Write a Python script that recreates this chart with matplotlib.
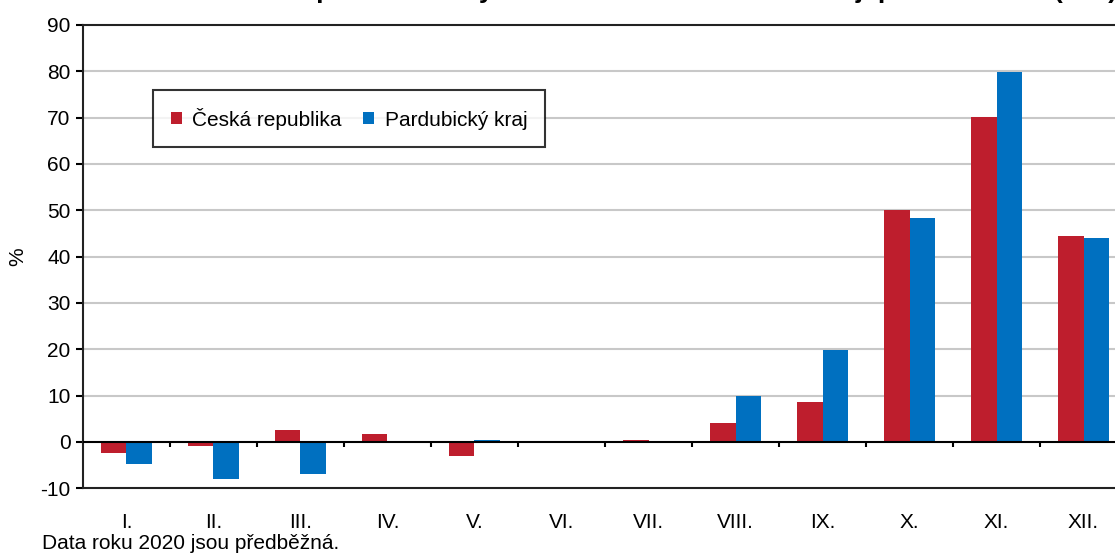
import numpy as np
import matplotlib.pyplot as plt

months = ["I.", "II.", "III.", "IV.", "V.", "VI.", "VII.", "VIII.", "IX.", "X.", "XI.", "XII."]
cr = [-2.4, -0.8, 2.6, 1.8, -3.0, 0.0, 0.5, 4.0, 8.7, 50.0, 70.1, 44.5]
pardubice = [-4.7, -8.1, -6.9, 0.0, 0.5, 0.0, 0.0, 10.0, 19.9, 48.3, 79.8, 44.1]

red = "#be1e2d"
blue = "#0070c0"

plt.rcParams['font.family'] = ['Liberation Sans', 'DejaVu Sans']
plt.rcParams['axes.unicode_minus'] = False

fig = plt.figure(figsize=(11.15, 5.54), dpi=100)
# right edge of the plot runs past the picture, as in the original
ax = fig.add_axes([0.0744, 0.1186, 1.0108 - 0.0744, 0.8363])

x = np.arange(len(months))
w = 0.29
ax.bar(x - w / 2, cr, w, color=red, label="Česká republika", zorder=3)
ax.bar(x + w / 2, pardubice, w, color=blue, label="Pardubický kraj", zorder=3)

ax.set_xlim(-0.5, len(months) - 0.5)
ax.set_ylim(-10, 90)
ax.set_yticks(np.arange(-10, 91, 10))
ax.tick_params(axis='y', labelsize=15, length=5, width=1.5, direction='out', pad=4)
ax.set_xticks(x)
ax.set_xticklabels(months)
ax.tick_params(axis='x', labelsize=15, length=0, pad=18)

for v in range(10, 90, 10):
    ax.axhline(v, color="#c8c8c8", lw=1.5, zorder=1)
ax.axhline(0, color="black", lw=1.5, zorder=4)
# tick marks on the zero line between months
ax.vlines(np.arange(0.5, len(months) - 0.5, 1), -1.1, 0, color="black", lw=1.5, zorder=4)

for s in ax.spines.values():
    s.set_linewidth(1.5)
    s.set_color("#222222")

fig.text(18 / 1115, 1 - 257 / 554, "%", rotation=90, fontsize=15, ha="center", va="center")

leg = ax.legend(loc="upper left", bbox_to_anchor=(0.067, 0.86), fontsize=15,
                frameon=True, fancybox=False, edgecolor="black",
                handlelength=0.55, handleheight=0.55, handletextpad=0.5,
                columnspacing=1.0, ncol=2, borderpad=0.85, borderaxespad=0)
leg.get_frame().set_linewidth(1.5)

# title is cut off by the top edge in the original, only descenders show
fig.text(0.545, 1.004, "Meziroční změna počtu zemřelých v ČR a v Pardubickém kraji podle měsíců (v %)",
         ha="center", va="baseline", fontsize=19, fontweight="bold")
fig.text(0.038, 0.002, "Data roku 2020 jsou předběžná.", fontsize=15, ha="left", va="bottom")

fig.savefig("out.png", dpi=100)
